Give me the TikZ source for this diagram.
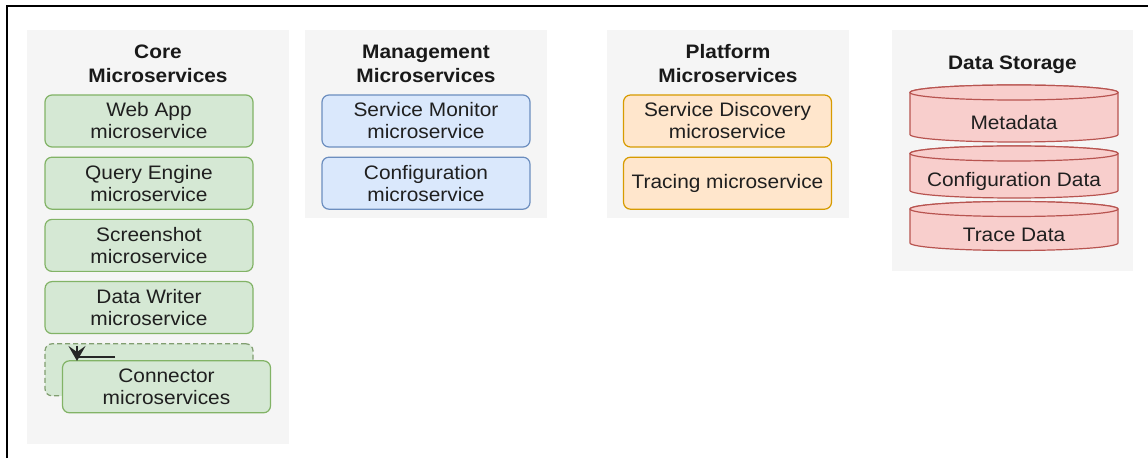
\documentclass[tikz,border=0pt]{standalone}
\usepackage{fontspec}
\setsansfont{Liberation Sans}[FakeStretch=1.07]
\usetikzlibrary{arrows.meta}
\usetikzlibrary{positioning}
\definecolor{panelbg}{HTML}{f5f5f5}
\definecolor{corefill}{HTML}{d5e8d4}
\definecolor{coreline}{HTML}{82b366}
\definecolor{mgmtfill}{HTML}{dae8fc}
\definecolor{mgmtline}{HTML}{6c8ebf}
\definecolor{platfill}{HTML}{ffe6cc}
\definecolor{platline}{HTML}{d79b00}
\definecolor{storefill}{HTML}{f8cecc}
\definecolor{storeline}{HTML}{b85450}

\begin{document}
\begin{tikzpicture}[
    x=1pt, y=1pt,
    >=Stealth,
    font=\sffamily\fontsize{19.5}{22}\selectfont,
    panel/.style={fill=panelbg, draw=none},
    heading/.style={font=\sffamily\bfseries\fontsize{19.5}{24}\selectfont,
                    align=center, text=black!90},
    svc/.style={rectangle, rounded corners=7pt, line width=1.2pt,
                minimum width=208pt, minimum height=52pt, inner sep=2pt,
                align=center, text=black!88},
    coresvc/.style={svc, fill=corefill, draw=coreline},
    mgmtsvc/.style={svc, fill=mgmtfill, draw=mgmtline},
    platsvc/.style={svc, fill=platfill, draw=platline},
    disk/.style={fill=storefill, draw=storeline, line width=1.2pt},
    spawnline/.style={line width=1.8pt, draw=black!85},
    spawn/.style={spawnline, -{Stealth[length=15pt, width=17pt, inset=6pt]}},
    node distance=9pt,
]

\def\dw{104}   % half width of a storage disk
\def\dr{7.5}   % vertical radius of the disk ellipse

% Helper: one storage disk
\newcommand{\drawdisk}[4]{
    % #1 = name, #2 = centre, #3 = height, #4 = label
    \begin{scope}[shift={(#2)}]
        \draw[disk] (-\dw,{#3/2-\dr}) -- (-\dw,{-#3/2+\dr})
            arc[start angle=180, end angle=360, x radius=\dw, y radius=\dr]
            -- (\dw,{#3/2-\dr})
            arc[start angle=0, end angle=180, x radius=\dw, y radius=\dr] -- cycle;
        \draw[disk] (0,{#3/2-\dr}) ellipse[x radius=\dw, y radius=\dr];
        \node[text=black!88] (#1) at (0,-9) {#4};
    \end{scope}
}

\useasboundingbox (0,0) rectangle (1148,458);

% frame
\draw[line width=2pt] (7,0) -- (7,452) -- (1148,452);

% ── panels ──
\fill[panel] (27,14) rectangle (289,428);
\fill[panel] (305,240) rectangle (547,428);
\fill[panel] (607,240) rectangle (849,428);
\fill[panel] (892,187) rectangle (1133,428);

% ── Core ──
\node[heading] (coretitle) at (158,394.5) {Core\\Microservices};
\node[coresvc] (webapp) at (149,337) {Web App\\microservice};
\node[coresvc, below=of webapp] (query) {Query Engine\\microservice};
\node[coresvc, below=of query] (shot) {Screenshot\\microservice};
\node[coresvc, below=of shot] (writer) {Data Writer\\microservice};
\node[coresvc, below=of writer, dashed, dash pattern=on 5pt off 3pt,
      draw=coreline!60!gray] (connback) {};
\node[coresvc, xshift=17.5pt, yshift=-17pt] (conn) at (connback)
    {Connector\\microservices};

% spawn marker over the stacked cards
\coordinate (spawnfrom) at (115,101);
\coordinate (spawnbend) at (77,101);
\coordinate (spawntop) at (77,112);
\coordinate (spawnto) at (77,97);
\draw[spawnline] (spawnfrom) -- (spawnbend);
\draw[spawn] (spawntop) -- (spawnto);

% ── Management ──
\node[heading] (mgmttitle) at (426,394.5) {Management\\Microservices};
\node[mgmtsvc] (monitor) at (426,337) {Service Monitor\\microservice};
\node[mgmtsvc, below=of monitor] (config) {Configuration\\microservice};

% ── Platform ──
\node[heading] (plattitle) at (728,394.5) {Platform\\Microservices};
\node[platsvc] (discovery) at (727.5,337) {Service Discovery\\microservice};
\node[platsvc, below=of discovery] (tracing) {Tracing microservice};

% ── Data storage ──
\node[heading] (storetitle) at (1012.5,393) {Data Storage};
\drawdisk{meta}{1014,344.5}{57}{Metadata}
\drawdisk{confdata}{1014,286}{52}{Configuration Data}
\drawdisk{tracedata}{1014,232}{49}{Trace Data}

\end{tikzpicture}
\end{document}
